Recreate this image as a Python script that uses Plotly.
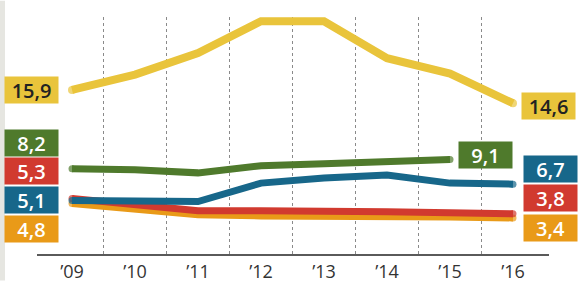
import plotly.graph_objects as go

years = [2009, 2010, 2011, 2012, 2013, 2014, 2015, 2016]
tick_labels = ["’09", "’10", "’11", "’12", "’13", "’14", "’15", "’16"]

yellow = [15.9, 17.4, 19.5, 22.6, 22.6, 19.0, 17.5, 14.6]
green = [8.2, 8.1, 7.8, 8.5, 8.7, 8.9, 9.1, None]
blue = [5.1, 5.05, 5.0, 6.8, 7.3, 7.6, 6.8, 6.7]
red = [5.3, 4.7, 4.1, 4.1, 4.1, 4.0, 3.9, 3.8]
orange = [4.8, 4.3, 3.7, 3.6, 3.6, 3.6, 3.5, 3.4]

left_labels = ["15,9", "8,2", "5,3", "5,1", "4,8"]
right_labels = ["14,6", "9,1", "6,7", "3,8", "3,4"]

C_YEL = "#E9C43B"
C_GRN = "#4F7A2C"
C_BLU = "#17678A"
C_RED = "#D13A2F"
C_ORA = "#E99A18"

W, H = 579, 295
L, R, T, B = 37, 30, 15, 28
PW, PH = W - L - R, H - T - B


def px(x):
    return (x - L) / PW


def py(y):
    return (H - B - y) / PH


fig = go.Figure()

series = [(orange, C_ORA, 7), (red, C_RED, 7), (blue, C_BLU, 7), (green, C_GRN, 7), (yellow, C_YEL, 8)]
for vals, col, w in series:
    idx = [i for i, v in enumerate(vals) if v is not None]
    sizes = [w if (i == idx[0] or i == idx[-1]) else 0 for i in range(len(vals))]
    fig.add_trace(go.Scatter(
        x=years, y=vals, mode="lines+markers",
        line=dict(color=col, width=w),
        marker=dict(size=sizes, color=col, line=dict(width=0)),
        hoverinfo="skip", showlegend=False,
    ))

# dotted separators between years
mids = [(a + b) / 2 for a, b in zip(years[:-1], years[1:])]
for m in mids:
    fig.add_shape(type="line", xref="x", yref="paper", x0=m, x1=m, y0=0, y1=1,
                  line=dict(color="#8a8a8a", width=1, dash="dot"), layer="below")

# light strip at left edge
fig.add_shape(type="rect", xref="paper", yref="paper", x0=px(0), x1=px(5), y0=py(H), y1=py(0),
              fillcolor="#e6e6e1", line=dict(width=0), layer="below")

FONT = "Open Sans"


def box(text, cx, cy, bg, fg, w=53, h=26):
    fig.add_annotation(x=px(cx), y=py(cy), xref="paper", yref="paper", text=text,
                       showarrow=False, xanchor="center", yanchor="middle",
                       bgcolor=bg, width=w, height=h, borderpad=0,
                       font=dict(family=FONT, size=20, color=fg, weight=600))


left_cols = [(C_YEL, "#222"), (C_GRN, "white"), (C_RED, "white"), (C_BLU, "white"), (C_ORA, "white")]
left_cy = [94.5, 149.5, 180, 210.5, 240.5]
for t, (bg, fg), cy in zip(left_labels, left_cols, left_cy):
    box(t, 31, cy, bg, fg)

right_cols = [(C_YEL, "#222"), (C_GRN, "white"), (C_BLU, "white"), (C_RED, "white"), (C_ORA, "white")]
right_pos = [(548, 110.5), (485, 162.5), (550.5, 177.5), (550.5, 207.5), (550.5, 240)]
for t, (bg, fg), (cx, cy) in zip(right_labels, right_cols, right_pos):
    box(t, cx, cy, bg, fg)

x0 = years[0] - (72 - L) / 63.0
x1 = years[-1] + (W - R - 513) / 63.0
ytop = (265.7 - T) / 10.8
ybot = (265.7 - (H - B)) / 10.8

fig.update_layout(
    width=W, height=H,
    margin=dict(l=L, r=R, t=T, b=B),
    paper_bgcolor="white", plot_bgcolor="white",
    xaxis=dict(range=[x0, x1], tickvals=years, ticktext=tick_labels,
               showgrid=False, zeroline=False, showline=True, linecolor="#5a5a5a", linewidth=2,
               ticks="", tickfont=dict(family=FONT, size=18, color="#333")),
    yaxis=dict(range=[ybot, ytop], visible=False, showgrid=False, zeroline=False),
)

fig.write_html("out.html", config={"displayModeBar": False, "responsive": False},
               post_script="document.body.style.margin='0';")
